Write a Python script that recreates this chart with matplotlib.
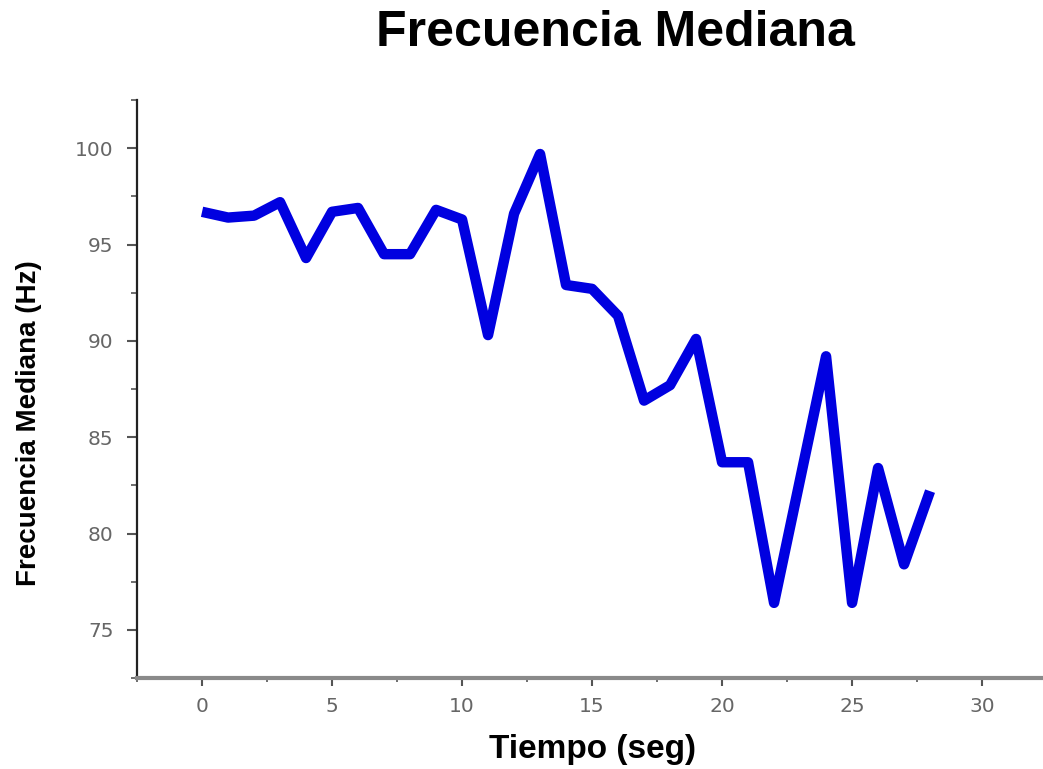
import matplotlib
matplotlib.use("Agg")
import matplotlib.pyplot as plt
from matplotlib.ticker import MultipleLocator

# datos
tiempo = list(range(0, 29))
frecuencia = [96.7, 96.4, 96.5, 97.2, 94.3, 96.7, 96.9, 94.5, 94.5, 96.8,
              96.3, 90.3, 96.6, 99.7, 92.9, 92.7, 91.3, 86.9, 87.7, 90.1,
              83.7, 83.7, 76.4, 82.8, 89.2, 76.4, 83.4, 78.4, 82.2]

xticks = [0, 5, 10, 15, 20, 25, 30]
yticks = [75, 80, 85, 90, 95, 100]

fig = plt.figure(figsize=(10.43, 7.69), dpi=100)
ax = fig.add_axes([0.1314, 0.1183, 0.8725, 0.7516])

ax.plot(tiempo, frecuencia, color="#0000e0", lw=7.5,
        solid_joinstyle="round", solid_capstyle="butt")

ax.set_xlim(-2.5, 32.5)
ax.set_ylim(72.5, 102.5)
ax.set_xticks(xticks)
ax.set_yticks(yticks)
ax.xaxis.set_minor_locator(MultipleLocator(2.5))
ax.yaxis.set_minor_locator(MultipleLocator(2.5))

ax.spines["top"].set_visible(False)
ax.spines["right"].set_visible(False)
ax.spines["left"].set_color("#222222")
ax.spines["left"].set_linewidth(1.6)
ax.spines["bottom"].set_color("#8a8a8a")
ax.spines["bottom"].set_linewidth(3)

ax.tick_params(axis="y", which="major", length=7, width=1.5, color="#555555",
               labelsize=14.5, labelcolor="#666666", pad=10)
ax.tick_params(axis="y", which="minor", length=4, width=1.2, color="#555555")
ax.tick_params(axis="x", which="major", length=6, width=1.5, color="#555555",
               labelsize=14.5, labelcolor="#666666", pad=8)
ax.tick_params(axis="x", which="minor", length=3, width=1.2, color="#555555")

fig.text(0.59, 0.957, "Frecuencia Mediana", ha="center", va="center",
         fontsize=36, fontweight="bold", family="Liberation Sans")
fig.text(0.568, 0.026, "Tiempo (seg)", ha="center", va="center",
         fontsize=24, fontweight="bold", family="Liberation Sans")
fig.text(0.028, 0.45, "Frecuencia Mediana (Hz)", ha="center", va="center",
         rotation=90, fontsize=20, fontweight="bold", family="Liberation Sans")

fig.savefig("out.png", dpi=100)
